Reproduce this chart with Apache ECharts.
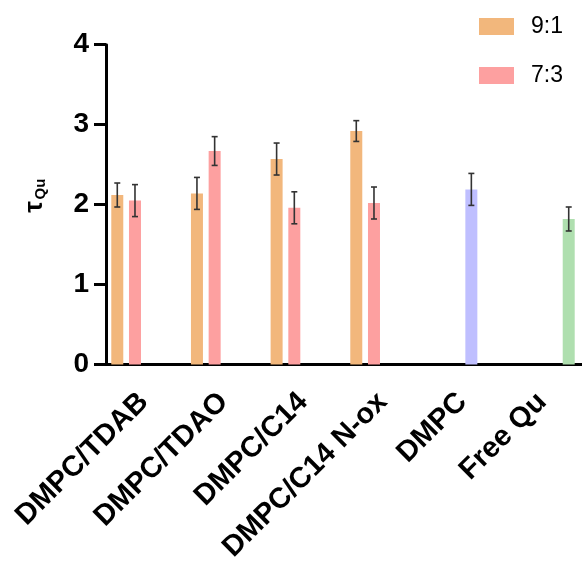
<!DOCTYPE html>
<html>
<head>
<meta charset="utf-8">
<script src="https://cdn.jsdelivr.net/npm/echarts@6/dist/echarts.min.js"></script>
<style>html,body{margin:0;padding:0;background:#fff;}#c{width:582px;height:566px;}</style>
</head>
<body>
<div id="c"></div>
<script>
const categories = ['DMPC/TDAB', 'DMPC/TDAO', 'DMPC/C14', 'DMPC/C14 N-ox', 'DMPC', 'Free Qu'];
const seriesNames = ['9:1', '7:3', 'DMPC', 'Free Qu'];
const mean91 = [2.12, 2.14, 2.57, 2.92, null, null];
const err91 = [0.15, 0.20, 0.20, 0.13, null, null];
const mean73 = [2.05, 2.67, 1.96, 2.02, null, null];
const err73 = [0.20, 0.18, 0.20, 0.20, null, null];
const meanDMPC = [null, null, null, null, 2.19, null];
const errDMPC = [null, null, null, null, 0.20, null];
const meanFree = [null, null, null, null, null, 1.82];
const errFree = [null, null, null, null, null, 0.15];
const yTicks = [0, 1, 2, 3, 4];
const yTitleMain = 'τ';
const yTitleSub = 'Qu';

const FONT = 'Liberation Sans, Arial, sans-serif';
const colors = ['#F2B77C', '#FDA0A0', '#BFBFFF', '#AFDFAF'];
const BAR_W = 12;
const BAR_GAP = 0.475;
const means = [mean91, mean73, meanDMPC, meanFree];
const errs = [err91, err73, errDMPC, errFree];

const chart = echarts.init(document.getElementById('c'), null, {renderer: 'canvas'});

const barSeries = seriesNames.map((name, s) => ({
  name: name, type: 'bar', data: means[s], barWidth: BAR_W,
  barGap: (BAR_GAP * 100) + '%', itemStyle: {color: colors[s]},
  emphasis: {disabled: true}, z: 2
}));

const nSeries = seriesNames.length;
const errSeries = seriesNames.map((name, s) => ({
  name: name + ' err', type: 'custom', z: 5, silent: true,
  data: means[s].map((m, i) => m == null ? null : [i, m - errs[s][i], m + errs[s][i]]).filter(d => d),
  renderItem: function (params, api) {
    const cat = api.value(0);
    const lo = api.coord([cat, api.value(1)]);
    const hi = api.coord([cat, api.value(2)]);
    const step = BAR_W * (1 + BAR_GAP);
    const x = lo[0] + (s - (nSeries - 1) / 2) * step;
    const cap = 3;
    const st = {stroke: '#333', lineWidth: 1.6};
    return {type: 'group', children: [
      {type: 'line', shape: {x1: x, y1: lo[1], x2: x, y2: hi[1]}, style: st},
      {type: 'line', shape: {x1: x - cap, y1: lo[1], x2: x + cap, y2: lo[1]}, style: st},
      {type: 'line', shape: {x1: x - cap, y1: hi[1], x2: x + cap, y2: hi[1]}, style: st}
    ]};
  }
}));

const option = {
  animation: false,
  backgroundColor: '#fff',
  textStyle: {fontFamily: FONT},
  legend: {
    data: ['9:1', '7:3'], orient: 'vertical', left: 479, top: 15, padding: 0,
    itemWidth: 35, itemHeight: 17, itemGap: 26, icon: 'rect',
    textStyle: {fontSize: 23, color: '#000', fontFamily: FONT, padding: [0, 0, 0, 12]}
  },
  graphic: [
    {type: 'text', x: 35, y: 207, rotation: Math.PI / 2,
     style: {text: yTitleMain, font: 'bold 26px "Liberation Sans", Arial, sans-serif', fill: '#000', align: 'center', verticalAlign: 'middle'}},
    {type: 'text', x: 41, y: 189, rotation: Math.PI / 2,
     style: {text: yTitleSub, font: 'bold 15px "Liberation Sans", Arial, sans-serif', fill: '#000', align: 'center', verticalAlign: 'middle'}}
  ],
  grid: {left: 104, right: -7, top: 44.7, bottom: 201.5, containLabel: false},
  xAxis: {
    type: 'category', data: categories,
    axisLine: {lineStyle: {color: '#000', width: 3}},
    axisTick: {alignWithLabel: true, length: 12, lineStyle: {color: '#000', width: 3}},
    axisLabel: {rotate: 45, interval: 0, margin: 33, fontSize: 29, fontWeight: 'bold', color: '#000', fontFamily: FONT}
  },
  yAxis: {
    type: 'value', min: yTicks[0], max: yTicks[yTicks.length - 1], interval: 1, offset: -2,
    axisLine: {show: true, lineStyle: {color: '#000', width: 3}},
    axisTick: {show: true, length: 12, lineStyle: {color: '#000', width: 3}},
    axisLabel: {fontSize: 28, fontWeight: 'bold', color: '#000', margin: 17, fontFamily: FONT},
    splitLine: {show: false}
  },
  series: barSeries.concat(errSeries)
};
chart.setOption(option);
</script>
</body>
</html>
